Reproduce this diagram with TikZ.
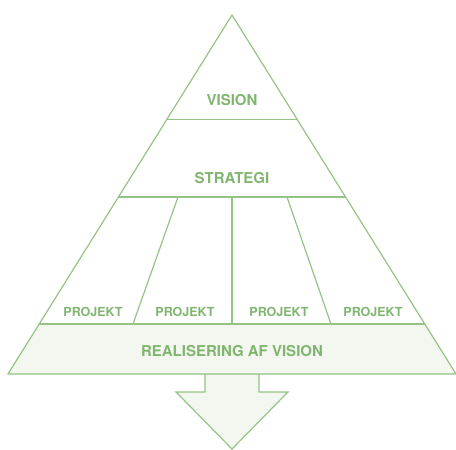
\documentclass[tikz,border=0pt]{standalone}
\usepackage{fontspec}
\setmainfont{TeX Gyre Heros}
\usetikzlibrary{calc}
\definecolor{pyrline}{HTML}{93C484}
\definecolor{pyrtext}{HTML}{80B56F}
\definecolor{pyrfill}{HTML}{F3F7F0}
\tikzset{
  edge/.style={draw=pyrline, line width=1.2pt, line join=miter},
  lvl/.style={text=pyrtext, font=\bfseries\fontsize{15}{15}\selectfont},
  proj/.style={text=pyrtext, font=\bfseries\fontsize{12.5}{12.5}\selectfont}
}
\begin{document}
\begin{tikzpicture}[x=1pt,y=-1pt]
\useasboundingbox (0,0) rectangle (456,450);
\coordinate (apex) at (232,15);
\coordinate (bl) at (8,374);
\coordinate (br) at (456,374);
\coordinate (vl) at ($(apex)!0.291!(bl)$);
\coordinate (vr) at ($(apex)!0.291!(br)$);
\coordinate (sl) at ($(apex)!0.507!(bl)$);
\coordinate (sr) at ($(apex)!0.507!(br)$);
\coordinate (pl) at ($(apex)!0.861!(bl)$);
\coordinate (pr) at ($(apex)!0.861!(br)$);
\fill [pyrfill] (pl) -- (pr) -- (br) -- (bl) -- cycle;
\fill [pyrfill] (205,374) -- (205,392) -- (176,392) -- (232,449) -- (288,392) -- (259,392) -- (259,374) -- cycle;
\draw [edge] (205,374) -- (205,392) -- (176,392) -- (232,449) -- (288,392) -- (259,392) -- (259,374);
\draw [edge] (apex) -- (bl) -- (br) -- cycle;
\draw [edge] (vl) -- (vr);
\draw [edge] (sl) -- (sr);
\draw [edge] (pl) -- (pr);
\draw [edge] (178,197) -- (133,324);
\draw [edge] (232,197) -- (232,324);
\draw [edge] (287,197) -- (331,324);
\node [lvl] (vision) at (232,100) {VISION};
\node [lvl] (strategi) at (232,178) {STRATEGI};
\node [proj] (p1) at (93,312) {PROJEKT};
\node [proj] (p2) at (185,312) {PROJEKT};
\node [proj] (p3) at (279,312) {PROJEKT};
\node [proj] (p4) at (373,312) {PROJEKT};
\node [lvl] (real) at (232,351) {REALISERING AF VISION};
\end{tikzpicture}
\end{document}
